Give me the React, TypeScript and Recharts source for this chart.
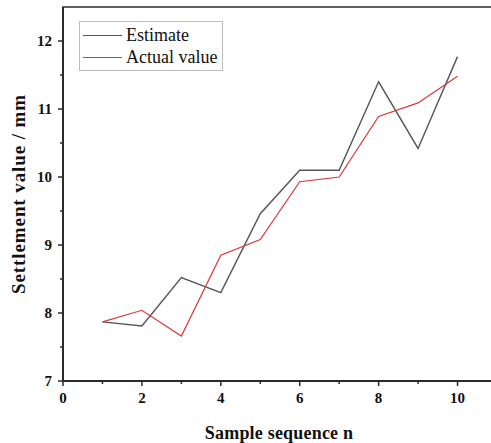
import { Legend, Line, LineChart, ReferenceArea, XAxis, YAxis } from "recharts";

const samples = [1, 2, 3, 4, 5, 6, 7, 8, 9, 10];
const estimate = [7.87, 7.81, 8.52, 8.3, 9.46, 10.1, 10.1, 11.4, 10.42, 11.77];
const actual = [7.87, 8.04, 7.66, 8.85, 9.08, 9.93, 10.0, 10.89, 11.09, 11.48];
const xTicks = [0, 1, 2, 3, 4, 5, 6, 7, 8, 9, 10];
const yTicks = [7, 7.5, 8, 8.5, 9, 9.5, 10, 10.5, 11, 11.5, 12];
const seriesNames = ["Estimate", "Actual value"];
const seriesColors = ["#555555", "#d9383a"];

const data = samples.map((n, i) => ({ n, estimate: estimate[i], actual: actual[i] }));

const AXIS = "#2b2b2b";
const TICK = 5;
const MINOR = 3;
const MARGIN = 6;
const serif = "'Liberation Serif', 'DejaVu Serif', serif";

function XTick({ x, y, payload }: any) {
  const v = payload.value;
  const major = v % 2 === 0;
  const ay = y - TICK - MARGIN;
  return (
    <g>
      <line x1={x} x2={x} y1={ay} y2={ay + (major ? TICK : MINOR)} stroke={AXIS} strokeWidth={1.5} />
      {major && (
        <text x={x} y={y} dy="0.75em" textAnchor="middle" fontFamily={serif} fontWeight="bold" fontSize={15} fill="#111">
          {v}
        </text>
      )}
    </g>
  );
}

function YTick({ x, y, payload }: any) {
  const v = payload.value;
  const major = Number.isInteger(v);
  const ax = x + TICK + MARGIN;
  return (
    <g>
      <line x1={ax} x2={ax - (major ? TICK : MINOR)} y1={y} y2={y} stroke={AXIS} strokeWidth={1.5} />
      {major && (
        <text x={x} y={y} dy="0.35em" textAnchor="end" fontFamily={serif} fontWeight="bold" fontSize={15} fill="#111">
          {v}
        </text>
      )}
    </g>
  );
}

function LegendBox() {
  return (
    <div style={{ border: "1px solid #bdbdbd", background: "#fff", padding: "2px 0", width: 142 }}>
      {seriesNames.map((name, i) => (
        <div key={name} style={{ display: "flex", alignItems: "center", height: 22 }}>
          <div style={{ width: 39, height: 0, borderTop: `1.5px solid ${seriesColors[i]}`, marginLeft: 3, marginRight: 4 }} />
          <span style={{ fontFamily: serif, fontSize: 18, color: "#111", lineHeight: "22px" }}>{name}</span>
        </div>
      ))}
    </div>
  );
}

export default function App() {
  return (
    <div style={{ position: "absolute", left: 0, top: 0, width: 491, height: 443, overflow: "hidden", background: "#fff" }}>
      <LineChart width={500} height={443} data={data} margin={{ top: 7, right: 5, bottom: 0, left: 0 }}>
        <ReferenceArea x1={0} x2={10.95} y1={7} y2={12.5} fill="none" stroke={AXIS} strokeWidth={1.5} />
        <XAxis
          dataKey="n"
          type="number"
          domain={[0, 10.95]}
          ticks={xTicks}
          interval={0}
          allowDataOverflow
          height={62}
          stroke={AXIS}
          strokeWidth={2}
          tickLine={false}
          tickSize={TICK}
          tickMargin={MARGIN}
          tick={<XTick />}
          label={{
            value: "Sample sequence n",
            position: "insideBottom",
            offset: 4,
            style: { fontFamily: serif, fontWeight: "bold", fontSize: 18, fill: "#111", letterSpacing: 0.2 },
          }}
        />
        <YAxis
          type="number"
          domain={[7, 12.5]}
          ticks={yTicks}
          interval={0}
          allowDataOverflow
          width={63}
          stroke={AXIS}
          strokeWidth={2}
          tickLine={false}
          tickSize={TICK}
          tickMargin={MARGIN}
          tick={<YTick />}
          label={{
            value: "Settlement value / mm",
            angle: -90,
            position: "insideLeft",
            offset: 18,
            style: { fontFamily: serif, fontWeight: "bold", fontSize: 19, fill: "#111", letterSpacing: 0.9, textAnchor: "middle" },
          }}
        />
        <Legend
          layout="horizontal"
          verticalAlign="middle"
          align="center"
          wrapperStyle={{ position: "absolute", left: 79, top: 21, width: 144 }}
          content={<LegendBox />}
        />
        <Line dataKey="estimate" name={seriesNames[0]} stroke={seriesColors[0]} strokeWidth={1.4} dot={false} isAnimationActive={false} />
        <Line dataKey="actual" name={seriesNames[1]} stroke={seriesColors[1]} strokeWidth={1.2} dot={false} isAnimationActive={false} />
      </LineChart>
    </div>
  );
}
